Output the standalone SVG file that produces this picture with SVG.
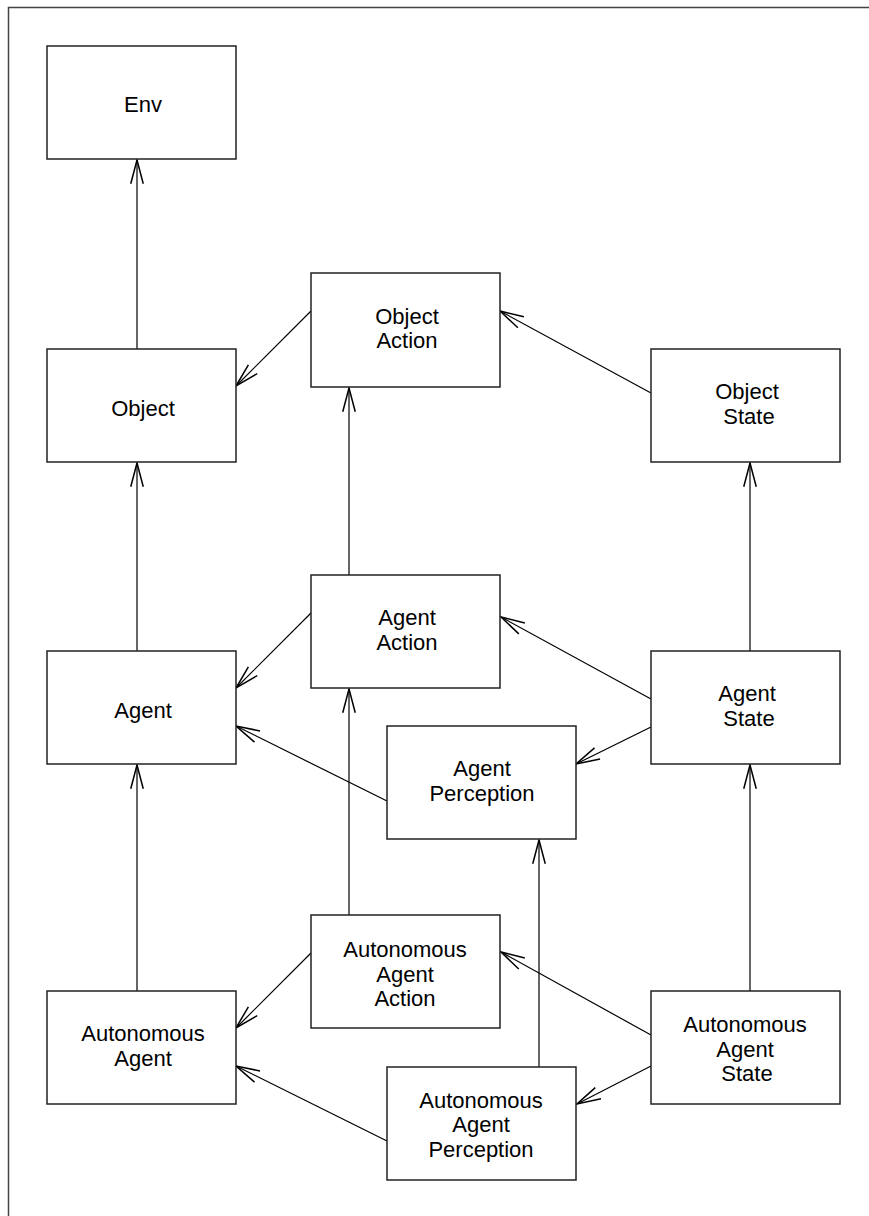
<svg xmlns="http://www.w3.org/2000/svg" width="869" height="1216" viewBox="0 0 869 1216">
<style>
.box{fill:#fff;stroke:#222;stroke-width:1.5}
.lbl{font-family:"Liberation Sans",Arial,sans-serif;font-size:22px;fill:#000;text-anchor:middle}
.edge{stroke:#000;stroke-width:1.2;fill:none;marker-end:url(#arr)}
</style>
<defs>
<marker id="arr" markerUnits="userSpaceOnUse" orient="auto" refX="0" refY="0" markerWidth="30" markerHeight="30" viewBox="-22 -8 24 16" overflow="visible">
<path d="M-19,-5 L0,0 L-19,5" fill="none" stroke="#000" stroke-width="1.2"/>
</marker>
</defs>
<rect width="869" height="1216" fill="#fff"/>
<path d="M8.5,1216 V7.5 H869" fill="none" stroke="#444" stroke-width="1.5"/>
<g id="connectors">
<line class="edge" x1="137" y1="349" x2="137" y2="160"/>
<line class="edge" x1="311" y1="311" x2="236" y2="386"/>
<line class="edge" x1="651" y1="393" x2="500" y2="311"/>
<line class="edge" x1="349" y1="575" x2="349" y2="388"/>
<line class="edge" x1="137" y1="651" x2="137" y2="463"/>
<line class="edge" x1="750" y1="651" x2="750" y2="463"/>
<line class="edge" x1="311" y1="613" x2="236" y2="688"/>
<line class="edge" x1="651" y1="699" x2="501" y2="617"/>
<line class="edge" x1="651" y1="727" x2="576" y2="764"/>
<line class="edge" x1="387" y1="801" x2="236" y2="726"/>
<line class="edge" x1="349" y1="915" x2="349" y2="689"/>
<line class="edge" x1="539" y1="1067" x2="539" y2="840"/>
<line class="edge" x1="750" y1="991" x2="750" y2="765"/>
<line class="edge" x1="137" y1="991" x2="137" y2="765"/>
<line class="edge" x1="311" y1="953" x2="236" y2="1028"/>
<line class="edge" x1="651" y1="1035" x2="501" y2="952"/>
<line class="edge" x1="651" y1="1066" x2="577" y2="1104"/>
<line class="edge" x1="387" y1="1141" x2="236" y2="1066"/>
</g>
<g id="env"><rect class="box" x="47" y="46" width="189" height="113"/><text class="lbl" x="143" y="112">Env</text></g>
<g id="object"><rect class="box" x="47" y="349" width="189" height="113"/><text class="lbl" x="143" y="416">Object</text></g>
<g id="object-action"><rect class="box" x="311" y="273" width="189" height="114"/><text class="lbl" x="407" y="323.6">Object<tspan x="407" dy="24.7">Action</tspan></text></g>
<g id="object-state"><rect class="box" x="651" y="349" width="189" height="113"/><text class="lbl" x="747" y="399">Object<tspan x="749" dy="24.7">State</tspan></text></g>
<g id="agent"><rect class="box" x="47" y="651" width="189" height="113"/><text class="lbl" x="143" y="718">Agent</text></g>
<g id="agent-action"><rect class="box" x="311" y="575" width="189" height="113"/><text class="lbl" x="407" y="625.3">Agent<tspan x="407" dy="24.7">Action</tspan></text></g>
<g id="agent-state"><rect class="box" x="651" y="651" width="189" height="113"/><text class="lbl" x="747" y="701.2">Agent<tspan x="749" dy="24.7">State</tspan></text></g>
<g id="agent-perception"><rect class="box" x="387" y="726" width="189" height="113"/><text class="lbl" x="482" y="776.3">Agent<tspan x="482" dy="24.7">Perception</tspan></text></g>
<g id="autonomous-agent"><rect class="box" x="47" y="991" width="189" height="113"/><text class="lbl" x="143" y="1041">Autonomous<tspan x="143" dy="24.7">Agent</tspan></text></g>
<g id="autonomous-agent-action"><rect class="box" x="311" y="915" width="189" height="113"/><text class="lbl" x="405" y="957">Autonomous<tspan x="405" dy="24.7">Agent</tspan><tspan x="405" dy="24.7">Action</tspan></text></g>
<g id="autonomous-agent-state"><rect class="box" x="651" y="991" width="189" height="113"/><text class="lbl" x="745" y="1032">Autonomous<tspan x="745" dy="24.7">Agent</tspan><tspan x="747" dy="24.7">State</tspan></text></g>
<g id="autonomous-agent-perception"><rect class="box" x="387" y="1067" width="189" height="113"/><text class="lbl" x="481" y="1107.6">Autonomous<tspan x="481" dy="24.7">Agent</tspan><tspan x="481" dy="24.7">Perception</tspan></text></g>
</svg>
